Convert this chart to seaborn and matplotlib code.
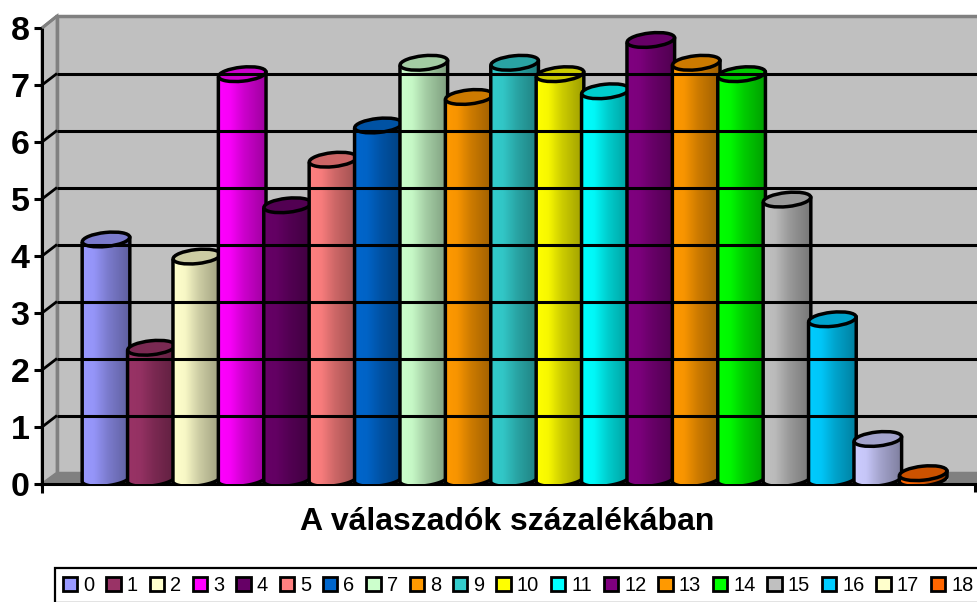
import numpy as np
import matplotlib
matplotlib.use('Agg')
import matplotlib.pyplot as plt
from matplotlib.patches import Ellipse, PathPatch, Polygon, Patch
from matplotlib.path import Path
from matplotlib.transforms import IdentityTransform
import seaborn as sns

cats = [str(i) for i in range(19)]
values = [4.2, 2.3, 3.9, 7.1, 4.8, 5.6, 6.2, 7.3, 6.7, 7.3, 7.1, 6.8, 7.7, 7.3, 7.1, 4.9, 2.8, 0.7, 0.1]
bar_colors = ['#9999FF', '#993366', '#FFFFCC', '#FF00FF', '#660066', '#FF8080', '#0066CC', '#CCFFCC', '#FF9900',
              '#33CCCC', '#FFFF00', '#00FFFF', '#800080', '#FF9900', '#00FF00', '#C0C0C0', '#00CCFF', '#CCCCFF', '#FF6600']
legend_colors = bar_colors[:17] + ['#FFFFCC', '#FF6600']
yticks = list(range(9))
xlabel = 'A válaszadók százalékában'

W, H = 977, 602
sns.set_theme(style='white')
plt.rcParams['font.family'] = ['Liberation Sans', 'DejaVu Sans']

fig = plt.figure(figsize=(W / 100, H / 100), dpi=100)
ax = fig.add_axes([42 / W, (H - 484) / H, (W - 42) / W, 456 / H])
ax.patch.set_visible(False)


def px(x, y):
    # reference pixel (y down) to display coordinates
    return (x, H - y)


def wall(points, **kw):
    fig.add_artist(Polygon([px(*p) for p in points], closed=True, transform=IdentityTransform(), zorder=0, **kw))


def seg(x0, y0, x1, y1, **kw):
    fig.add_artist(plt.Line2D([x0, x1], [H - y0, H - y1], transform=IdentityTransform(), solid_capstyle='butt', **kw))


# 3d box behind the bars
wall([(57, 16), (W + 2, 16), (W + 2, 473), (57, 473)], fc='#C0C0C0', ec='#808080', lw=2.5)
wall([(42, 28), (57, 16), (57, 473), (42, 484)], fc='#C0C0C0', ec='#808080', lw=2)
wall([(42, 484), (57, 473), (W + 2, 473), (W + 2, 484)], fc='#808080', ec='#808080', lw=1)
for t in yticks[1:8]:
    yy = 484 - t * 57
    seg(57, yy - 11.5, W, yy - 11.5, color='black', lw=2.2, zorder=0.5)
    seg(42, yy, 57, yy - 11.5, color='black', lw=2, zorder=0.5)
seg(42, 28, 57, 16, color='#808080', lw=2.2, zorder=0.5)

sns.barplot(x=cats, y=values, hue=cats, palette=bar_colors, order=cats, hue_order=cats,
            legend=False, width=1.05, saturation=1, ax=ax)
ax.set_xlim((42 - 106) / 45.4, (W - 106) / 45.4)
ax.set_ylim(0, 8)
fig.canvas.draw()

lift = 0.09
bars = [c[0] for c in ax.containers]
for i, bar in enumerate(bars):
    z = 3 + i
    col = np.array(matplotlib.colors.to_rgb(bar_colors[i]))
    bar.set_y(lift)
    bar.set_zorder(z)
    x0, x1 = bar.get_x(), bar.get_x() + bar.get_width()
    top = values[i] + lift
    (lx, ty) = ax.transData.transform((x0, top))
    (rx, by) = ax.transData.transform((x1, lift))
    cx = (lx + rx) / 2
    rw = (rx - lx) / 2
    ry = 7
    tilt = np.radians(6)
    a = np.linspace(np.pi, 2 * np.pi, 40)
    arc = [(cx + rw * np.cos(t), by + ry * np.sin(t) + rw * np.cos(t) * np.tan(tilt)) for t in a]
    verts = [(lx, ty - rw * np.tan(tilt))] + arc + [(rx, ty + rw * np.tan(tilt))]
    body = PathPatch(Path(verts + [verts[0]]), fc='none', ec='black', lw=2.5, transform=IdentityTransform(),
                     zorder=z + 0.2, joinstyle='round')
    ax.add_patch(body)
    clip = PathPatch(Path(verts + [verts[0]]), fc='none', ec='none', transform=IdentityTransform())
    ax.add_patch(clip)

    # cylinder shading, bright on the left and dark on the right
    shade = np.interp(np.linspace(0, 1, 64), [0, 0.25, 0.55, 1], [1.0, 0.97, 0.8, 0.62])
    img = (col[None, None, :] * shade[None, :, None]).clip(0, 1)
    im = ax.imshow(img, extent=(x0, x1, 0, top), aspect='auto', zorder=z + 0.1, interpolation='bilinear')
    im.set_clip_path(clip)

    ax.add_patch(Ellipse((cx, ty), 2 * rw, 2 * ry, angle=6, fc=col * 0.8, ec='black', lw=2.5,
                         transform=IdentityTransform(), zorder=z + 0.3))

ax.set_xlim((42 - 106) / 45.4, (W - 106) / 45.4)
ax.set_ylim(0, 8)

sns.despine(ax=ax, top=True, right=True, left=False, bottom=False)
for s in ['left', 'bottom']:
    ax.spines[s].set_color('black')
    ax.spines[s].set_linewidth(2.2)
    ax.spines[s].set_zorder(2)
ax.set_yticks(yticks)
ax.set_yticklabels([str(t) for t in yticks], fontsize=24.5, fontweight='bold', color='black')
ax.tick_params(axis='y', left=True, length=6, width=2.2, color='black', pad=3)
ax.set_xticks([])
seg(42, 484, 42, 493, color='black', lw=2.2, zorder=2)
seg(974.5, 484, 974.5, 492, color='black', lw=2.2, zorder=2)

ax.set_xlabel('')
ax.set_ylabel('')
fig.text(507 / W, (H - 522) / H, xlabel, ha='center', va='center', fontsize=23, fontweight='bold', color='black')

handles = [Patch(fc=c, ec='black', lw=2) for c in legend_colors]
leg = fig.legend(handles, cats, ncol=19, loc='lower left', bbox_to_anchor=(55 / W, -1 / H), fontsize=14.4,
                 frameon=True, fancybox=False, edgecolor='black', facecolor='white', framealpha=1,
                 handlelength=0.72, handleheight=0.72, handletextpad=0.3, columnspacing=0.59,
                 borderpad=0.4, borderaxespad=0, labelcolor='black')
leg.get_frame().set_linewidth(1.6)

plt.savefig('out.png', dpi=100)
